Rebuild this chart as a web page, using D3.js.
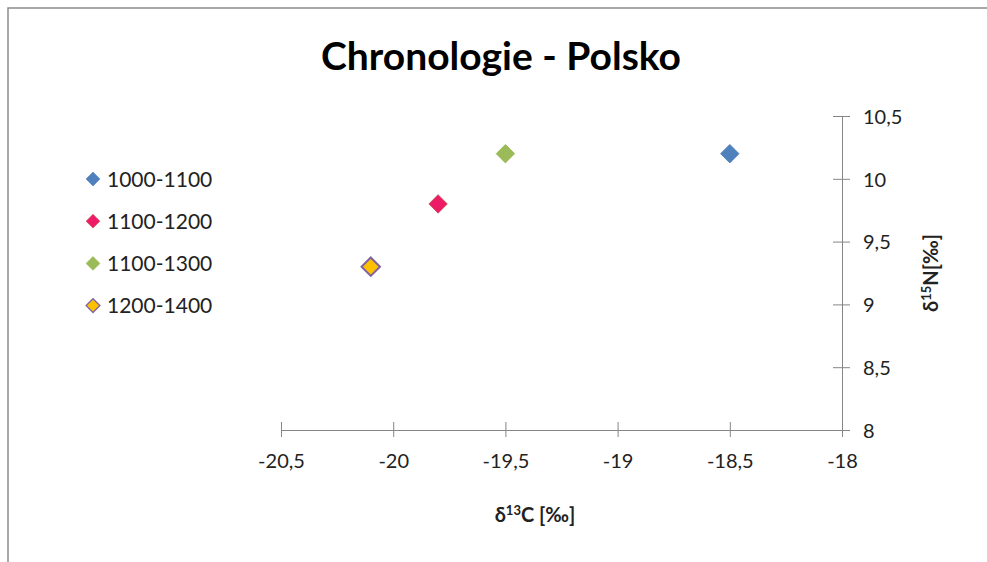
<!DOCTYPE html>
<html>
<head>
<meta charset="utf-8">
<script src="https://cdn.jsdelivr.net/npm/d3@7"></script>
<style>
  body { margin: 0; background: #fff; }
  text { font-family: Lato, "Open Sans", sans-serif; }
</style>
</head>
<body>
<div id="chart"></div>
<script>
// Data
var series = ["1000-1100", "1100-1200", "1100-1300", "1200-1400"];
var d13C = [-18.5, -19.8, -19.5, -20.1];
var d15N = [10.2, 9.8, 10.2, 9.3];
var fills = ["#4F81BD", "#EE1B67", "#9BBB59", "#FFC000"];
var strokes = ["#4A7EBB", "#C0504D", "#98B954", "#8064A2"];
var xTicks = [-20.5, -20, -19.5, -19, -18.5, -18];
var yTicks = [8, 8.5, 9, 9.5, 10, 10.5];

var svgWidth = 987;
var svgHeight = 562;

var svg = d3.select("#chart")
    .append("svg")
    .attr("width", svgWidth)
    .attr("height", svgHeight);

// outer chart border (runs off the right and bottom edge)
svg.append("rect")
    .attr("x", 8).attr("y", 8)
    .attr("width", 1000).attr("height", 600)
    .attr("fill", "#fff")
    .attr("stroke", "#8c8c8c")
    .attr("stroke-width", 1.5);

var locale = d3.formatLocale({decimal: ",", thousands: " ", grouping: [3], currency: ["", ""], minus: "-"});
var fmt = locale.format("~g");

var x = d3.scaleLinear().domain([-20.5, -18]).range([281, 842]);
var y = d3.scaleLinear().domain([8, 10.5]).range([430, 116]);

// x axis
var xAxis = svg.append("g")
    .attr("transform", "translate(0,430)")
    .call(d3.axisBottom(x).tickValues(xTicks).tickFormat(fmt).tickSizeOuter(0).tickSize(7));
xAxis.select(".domain").attr("stroke", "#868686").attr("d", "M281,0.5H849");
xAxis.selectAll(".tick line").attr("stroke", "#868686").attr("y1", -8);
xAxis.selectAll(".tick text")
    .attr("y", 38).attr("dy", 0)
    .attr("fill", "#222").style("font-size", "20px");

// y axis on the right
var yAxis = svg.append("g")
    .attr("transform", "translate(842,0)")
    .call(d3.axisRight(y).tickValues(yTicks).tickFormat(fmt).tickSizeOuter(0).tickSize(8));
yAxis.select(".domain").attr("stroke", "#868686").attr("d", "M0.5,116V437");
yAxis.selectAll(".tick line").attr("stroke", "#868686").attr("x1", -9);
yAxis.selectAll(".tick text")
    .attr("x", 21).attr("dy", "0.36em")
    .attr("fill", "#222").style("font-size", "20px");

// points
var diamond = d3.symbol().type(d3.symbolSquare).size(170);
svg.selectAll(".pt")
    .data(series)
    .enter()
    .append("path")
    .attr("class", "pt")
    .attr("d", diamond)
    .attr("transform", (d, i) => `translate(${x(d13C[i])},${y(d15N[i])}) rotate(45)`)
    .attr("fill", (d, i) => fills[i])
    .attr("stroke", (d, i) => strokes[i])
    .attr("stroke-width", (d, i) => i == 3 ? 2 : 0.8);

// legend
var legend = svg.selectAll(".leg")
    .data(series)
    .enter()
    .append("g")
    .attr("class", "leg")
    .attr("transform", (d, i) => `translate(93,${179 + i * 42.2})`);
legend.append("path")
    .attr("d", d3.symbol().type(d3.symbolSquare).size(95))
    .attr("transform", "rotate(45)")
    .attr("fill", (d, i) => fills[i])
    .attr("stroke", (d, i) => strokes[i])
    .attr("stroke-width", (d, i) => i == 3 ? 1.3 : 0.6);
legend.append("text")
    .attr("x", 14)
    .attr("dy", "0.36em")
    .attr("fill", "#222")
    .style("font-size", "21px")
    .text(d => d);

// title
svg.append("text")
    .attr("x", 501).attr("y", 70)
    .attr("text-anchor", "middle")
    .style("font-size", "39px")
    .style("font-weight", "bold")
    .text("Chronologie - Polsko");

// axis titles
var xt = svg.append("text")
    .attr("x", 535).attr("y", 522)
    .attr("text-anchor", "middle")
    .attr("fill", "#222")
    .style("font-size", "20px")
    .style("font-weight", "bold");
xt.append("tspan").text("δ");
xt.append("tspan").attr("dy", -7).style("font-size", "13px").text("13");
xt.append("tspan").attr("dy", 7).text("C [‰]");

var yt = svg.append("text")
    .attr("transform", "translate(938,273) rotate(-90)")
    .attr("text-anchor", "middle")
    .attr("fill", "#222")
    .style("font-size", "20px")
    .style("font-weight", "bold");
yt.append("tspan").text("δ");
yt.append("tspan").attr("dy", -7).style("font-size", "13px").text("15");
yt.append("tspan").attr("dy", 7).text("N[‰]");
</script>
</body>
</html>
